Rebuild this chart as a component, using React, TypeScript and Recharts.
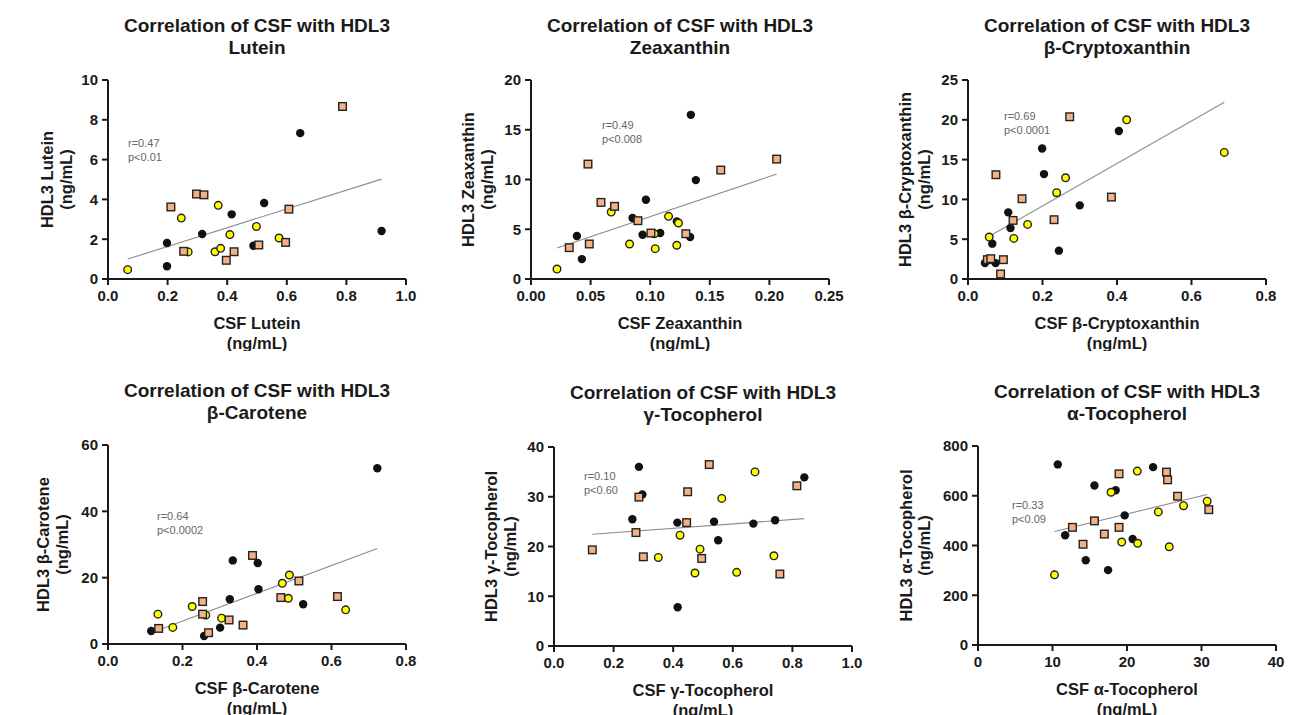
import React from "react";
import { ScatterChart, Scatter, XAxis, YAxis, ReferenceLine } from "recharts";

// fonts / colours
const FONT = '"Liberation Sans", Arial, Helvetica, sans-serif';
const INK = "#1a1a1a";

// ---------- data ----------
// Lutein
const luteinBlack = [
  { x: 0.198, y: 1.81 }, { x: 0.198, y: 0.64 }, { x: 0.316, y: 2.26 }, { x: 0.415, y: 3.25 },
  { x: 0.524, y: 3.82 }, { x: 0.645, y: 7.33 }, { x: 0.918, y: 2.41 }, { x: 0.488, y: 1.67 },
];
const luteinYellow = [
  { x: 0.066, y: 0.47 }, { x: 0.246, y: 3.06 }, { x: 0.269, y: 1.36 }, { x: 0.37, y: 3.7 },
  { x: 0.359, y: 1.37 }, { x: 0.378, y: 1.54 }, { x: 0.409, y: 2.23 }, { x: 0.498, y: 2.64 },
  { x: 0.574, y: 2.06 },
];
const luteinSquare = [
  { x: 0.211, y: 3.62 }, { x: 0.297, y: 4.27 }, { x: 0.322, y: 4.23 }, { x: 0.254, y: 1.39 },
  { x: 0.397, y: 0.94 }, { x: 0.423, y: 1.37 }, { x: 0.506, y: 1.71 }, { x: 0.596, y: 1.84 },
  { x: 0.607, y: 3.51 }, { x: 0.787, y: 8.67 },
];
const luteinFit = [{ x: 0.066, y: 1.0 }, { x: 0.918, y: 5.02 }];

// Zeaxanthin
const zeaBlack = [
  { x: 0.1341, y: 16.5 }, { x: 0.0427, y: 2.0 }, { x: 0.0385, y: 4.32 }, { x: 0.0964, y: 7.97 },
  { x: 0.0852, y: 6.13 }, { x: 0.0936, y: 4.45 }, { x: 0.1084, y: 4.62 }, { x: 0.1223, y: 5.79 },
  { x: 0.1335, y: 4.22 }, { x: 0.1383, y: 9.94 },
];
const zeaYellow = [
  { x: 0.0218, y: 1.0 }, { x: 0.0673, y: 6.73 }, { x: 0.0827, y: 3.52 }, { x: 0.1042, y: 3.05 },
  { x: 0.1034, y: 4.55 }, { x: 0.1154, y: 6.3 }, { x: 0.1237, y: 5.63 }, { x: 0.1223, y: 3.39 },
];
const zeaSquare = [
  { x: 0.0321, y: 3.15 }, { x: 0.0478, y: 11.55 }, { x: 0.0489, y: 3.52 }, { x: 0.0587, y: 7.7 },
  { x: 0.0701, y: 7.3 }, { x: 0.0897, y: 5.86 }, { x: 0.1006, y: 4.62 }, { x: 0.1299, y: 4.55 },
  { x: 0.1592, y: 10.95 }, { x: 0.2061, y: 12.05 },
];
const zeaFit = [{ x: 0.0218, y: 3.11 }, { x: 0.2061, y: 10.55 }];

// beta-Cryptoxanthin
const cryptoBlack = [
  { x: 0.0455, y: 2.0 }, { x: 0.0741, y: 2.0 }, { x: 0.0652, y: 4.44 }, { x: 0.108, y: 8.37 },
  { x: 0.114, y: 6.4 }, { x: 0.199, y: 16.4 }, { x: 0.204, y: 13.18 }, { x: 0.244, y: 3.56 },
  { x: 0.3, y: 9.25 }, { x: 0.405, y: 18.6 },
];
const cryptoYellow = [
  { x: 0.057, y: 5.27 }, { x: 0.123, y: 5.1 }, { x: 0.16, y: 6.86 }, { x: 0.238, y: 10.84 },
  { x: 0.262, y: 12.72 }, { x: 0.426, y: 20.0 }, { x: 0.688, y: 15.9 },
];
const cryptoSquare = [
  { x: 0.052, y: 2.43 }, { x: 0.061, y: 2.55 }, { x: 0.075, y: 13.1 }, { x: 0.095, y: 2.43 },
  { x: 0.0875, y: 0.63 }, { x: 0.121, y: 7.36 }, { x: 0.145, y: 10.08 }, { x: 0.231, y: 7.45 },
  { x: 0.273, y: 20.38 }, { x: 0.385, y: 10.29 },
];
const cryptoFit = [{ x: 0.057, y: 5.36 }, { x: 0.688, y: 22.2 }];

// beta-Carotene
const caroBlack = [
  { x: 0.116, y: 3.93 }, { x: 0.258, y: 2.42 }, { x: 0.301, y: 4.93 }, { x: 0.327, y: 13.5 },
  { x: 0.335, y: 25.2 }, { x: 0.402, y: 24.4 }, { x: 0.404, y: 16.5 }, { x: 0.524, y: 12.0 },
  { x: 0.723, y: 53.0 },
];
const caroYellow = [
  { x: 0.134, y: 9.0 }, { x: 0.174, y: 5.0 }, { x: 0.226, y: 11.3 }, { x: 0.2625, y: 8.7 },
  { x: 0.305, y: 7.8 }, { x: 0.468, y: 18.3 }, { x: 0.487, y: 20.8 }, { x: 0.484, y: 13.8 },
  { x: 0.638, y: 10.3 },
];
const caroSquare = [
  { x: 0.136, y: 4.7 }, { x: 0.254, y: 12.8 }, { x: 0.254, y: 9.0 }, { x: 0.27, y: 3.4 },
  { x: 0.325, y: 7.25 }, { x: 0.3625, y: 5.7 }, { x: 0.388, y: 26.7 }, { x: 0.464, y: 14.0 },
  { x: 0.5125, y: 19.0 }, { x: 0.616, y: 14.3 },
];
const caroFit = [{ x: 0.116, y: 3.4 }, { x: 0.723, y: 28.8 }];

// gamma-Tocopherol
const gtocBlack = [
  { x: 0.285, y: 36.0 }, { x: 0.2964, y: 30.47 }, { x: 0.263, y: 25.47 }, { x: 0.414, y: 24.8 },
  { x: 0.415, y: 7.8 }, { x: 0.537, y: 25.0 }, { x: 0.551, y: 21.27 }, { x: 0.669, y: 24.6 },
  { x: 0.742, y: 25.27 }, { x: 0.84, y: 33.9 },
];
const gtocYellow = [
  { x: 0.35, y: 17.8 }, { x: 0.423, y: 22.27 }, { x: 0.473, y: 14.67 }, { x: 0.49, y: 19.47 },
  { x: 0.563, y: 29.67 }, { x: 0.613, y: 14.8 }, { x: 0.6745, y: 35.0 }, { x: 0.738, y: 18.13 },
];
const gtocSquare = [
  { x: 0.1286, y: 19.33 }, { x: 0.275, y: 22.8 }, { x: 0.285, y: 29.93 }, { x: 0.2998, y: 17.93 },
  { x: 0.445, y: 24.8 }, { x: 0.4485, y: 31.0 }, { x: 0.4955, y: 17.6 }, { x: 0.521, y: 36.47 },
  { x: 0.758, y: 14.47 }, { x: 0.815, y: 32.2 },
];
const gtocFit = [{ x: 0.1286, y: 22.47 }, { x: 0.84, y: 25.6 }];

// alpha-Tocopherol
const atocBlack = [
  { x: 10.71, y: 726 }, { x: 11.7, y: 441 }, { x: 14.46, y: 341 }, { x: 15.63, y: 641 },
  { x: 17.46, y: 301 }, { x: 18.48, y: 622 }, { x: 19.69, y: 521 }, { x: 20.76, y: 426 },
  { x: 23.5, y: 715 },
];
const atocYellow = [
  { x: 10.27, y: 282 }, { x: 17.86, y: 614 }, { x: 19.29, y: 414 }, { x: 21.38, y: 699 },
  { x: 21.43, y: 409 }, { x: 24.2, y: 535 }, { x: 25.67, y: 395 }, { x: 27.59, y: 560 },
  { x: 30.76, y: 578 },
];
const atocSquare = [
  { x: 12.68, y: 473 }, { x: 14.1, y: 405 }, { x: 15.63, y: 499 }, { x: 16.96, y: 446 },
  { x: 18.93, y: 688 }, { x: 18.93, y: 473 }, { x: 25.3, y: 695 }, { x: 25.45, y: 664 },
  { x: 26.79, y: 598 }, { x: 30.98, y: 544 },
];
const atocFit = [{ x: 10.27, y: 456 }, { x: 30.76, y: 605 }];

// ---------- markers ----------
const BlackDot = (p: any) => <circle cx={p.cx} cy={p.cy} r={4.2} fill="#111" />;
const YellowDot = (p: any) => (
  <circle cx={p.cx} cy={p.cy} r={3.8} fill="#ffff00" stroke="#222" strokeWidth={1.4} />
);
const OrangeSquare = (p: any) => (
  <rect x={p.cx - 3.8} y={p.cy - 3.8} width={7.6} height={7.6} fill="#f4b183" stroke="#222" strokeWidth={1.4} />
);

// ---------- layout ----------
const PW = 298; // plot width
const PH = 199; // plot height
const YW = 90; // y axis area
const MT = 10;
const MR = 16;
const XH = 72;

const fmt1 = (v: number) => v.toFixed(1);
const fmt2 = (v: number) => v.toFixed(2);
const fmt0 = (v: number) => String(v);

const panels = [
  {
    name: "Lutein", left: 108, top: 80,
    xDomain: [0, 1], xTicks: [0, 0.2, 0.4, 0.6, 0.8, 1.0], xFmt: fmt1,
    yDomain: [0, 10], yTicks: [0, 2, 4, 6, 8, 10], yOff: [61, 42],
    black: luteinBlack, yellow: luteinYellow, square: luteinSquare, fit: luteinFit,
    r: "r=0.47", p: "p<0.01", noteX: 20, noteY: 64,
  },
  {
    name: "Zeaxanthin", left: 531, top: 80,
    xDomain: [0, 0.25], xTicks: [0, 0.05, 0.1, 0.15, 0.2, 0.25], xFmt: fmt2,
    yDomain: [0, 20], yTicks: [0, 5, 10, 15, 20], yOff: [63, 44],
    black: zeaBlack, yellow: zeaYellow, square: zeaSquare, fit: zeaFit,
    r: "r=0.49", p: "p<0.008", noteX: 71, noteY: 46,
  },
  {
    name: "β-Cryptoxanthin", left: 968, top: 80,
    xDomain: [0, 0.8], xTicks: [0, 0.2, 0.4, 0.6, 0.8], xFmt: fmt1,
    yDomain: [0, 25], yTicks: [0, 5, 10, 15, 20, 25], yOff: [63, 44],
    black: cryptoBlack, yellow: cryptoYellow, square: cryptoSquare, fit: cryptoFit,
    r: "r=0.69", p: "p<0.0001", noteX: 36, noteY: 37,
  },
  {
    name: "β-Carotene", left: 108, top: 445,
    xDomain: [0, 0.8], xTicks: [0, 0.2, 0.4, 0.6, 0.8], xFmt: fmt1,
    yDomain: [0, 60], yTicks: [0, 20, 40, 60], yOff: [65, 46],
    black: caroBlack, yellow: caroYellow, square: caroSquare, fit: caroFit,
    r: "r=0.64", p: "p<0.0002", noteX: 49, noteY: 72,
  },
  {
    name: "γ-Tocopherol", left: 554, top: 447,
    xDomain: [0, 1], xTicks: [0, 0.2, 0.4, 0.6, 0.8, 1.0], xFmt: fmt1,
    yDomain: [0, 40], yTicks: [0, 10, 20, 30, 40], yOff: [63, 44],
    black: gtocBlack, yellow: gtocYellow, square: gtocSquare, fit: gtocFit,
    r: "r=0.10", p: "p<0.60", noteX: 30, noteY: 30,
  },
  {
    name: "α-Tocopherol", left: 978, top: 446,
    xDomain: [0, 40], xTicks: [0, 10, 20, 30, 40], xFmt: fmt0,
    yDomain: [0, 800], yTicks: [0, 200, 400, 600, 800], yOff: [72, 54],
    black: atocBlack, yellow: atocYellow, square: atocSquare, fit: atocFit,
    r: "r=0.33", p: "p<0.09", noteX: 34, noteY: 60,
  },
];

const tickStyle = { fill: INK, fontSize: 15, fontWeight: 700, fontFamily: FONT };
const lineStyle = { stroke: INK, strokeWidth: 2 };

function Panel({ cfg }: { cfg: any }) {
  const W = YW + PW + MR;
  const H = MT + PH + XH;
  const axisY = MT + PH;
  const cx = YW + PW / 2;
  const cy = MT + PH / 2;

  const xLabel = () => (
    <text textAnchor="middle" fontFamily={FONT} fontWeight={700} fontSize={16.5} fill={INK} dominantBaseline="central">
      <tspan x={cx} y={axisY + 44}>{`CSF ${cfg.name}`}</tspan>
      <tspan x={cx} y={axisY + 64}>(ng/mL)</tspan>
    </text>
  );
  const yLabel = () => (
    <g fontFamily={FONT} fontWeight={700} fontSize={16.5} fill={INK}>
      <text x={YW - cfg.yOff[0]} y={cy} textAnchor="middle" dominantBaseline="central"
        transform={`rotate(-90 ${YW - cfg.yOff[0]} ${cy})`}>{`HDL3 ${cfg.name}`}</text>
      <text x={YW - cfg.yOff[1]} y={cy} textAnchor="middle" dominantBaseline="central"
        transform={`rotate(-90 ${YW - cfg.yOff[1]} ${cy})`}>(ng/mL)</text>
    </g>
  );

  return (
    <div style={{ position: "absolute", left: cfg.left - YW, top: cfg.top - MT, width: W, height: H }}>
      <ScatterChart width={W} height={H} margin={{ top: MT, right: MR, bottom: 0, left: 0 }}>
        <XAxis type="number" dataKey="x" domain={cfg.xDomain} ticks={cfg.xTicks} tickFormatter={cfg.xFmt}
          height={XH} axisLine={lineStyle} tickLine={lineStyle} tick={tickStyle} tickSize={6} tickMargin={5}
          interval={0} label={{ content: xLabel }} />
        <YAxis type="number" dataKey="y" domain={cfg.yDomain} ticks={cfg.yTicks} width={YW}
          axisLine={lineStyle} tickLine={lineStyle} tick={tickStyle} tickSize={6} tickMargin={4}
          interval={0} label={{ content: yLabel }} />
        <ReferenceLine segment={cfg.fit} stroke="#8c8c8c" strokeWidth={1.1} ifOverflow="visible" />
        <Scatter data={cfg.black} shape={BlackDot} isAnimationActive={false} />
        <Scatter data={cfg.yellow} shape={YellowDot} isAnimationActive={false} />
        <Scatter data={cfg.square} shape={OrangeSquare} isAnimationActive={false} />
      </ScatterChart>
      {/* title */}
      <div style={{
        position: "absolute", left: cx - 200, top: MT - 65, width: 400, textAlign: "center",
        fontFamily: FONT, fontWeight: 700, fontSize: 19, lineHeight: "22px", color: INK,
      }}>
        Correlation of CSF with HDL3<br />{cfg.name}
      </div>
      {/* r / p note */}
      <div style={{
        position: "absolute", left: YW + cfg.noteX, top: MT + cfg.noteY - 7, fontFamily: FONT,
        fontSize: 11, lineHeight: "13.5px", color: "#666", whiteSpace: "nowrap",
      }}>
        {cfg.r}<br />{cfg.p}
      </div>
    </div>
  );
}

export default function App() {
  return (
    <div style={{ position: "absolute", left: 0, top: 0, width: 1299, height: 715, background: "#fff", overflow: "hidden" }}>
      {panels.map((cfg) => (
        <Panel key={cfg.name} cfg={cfg} />
      ))}
    </div>
  );
}
